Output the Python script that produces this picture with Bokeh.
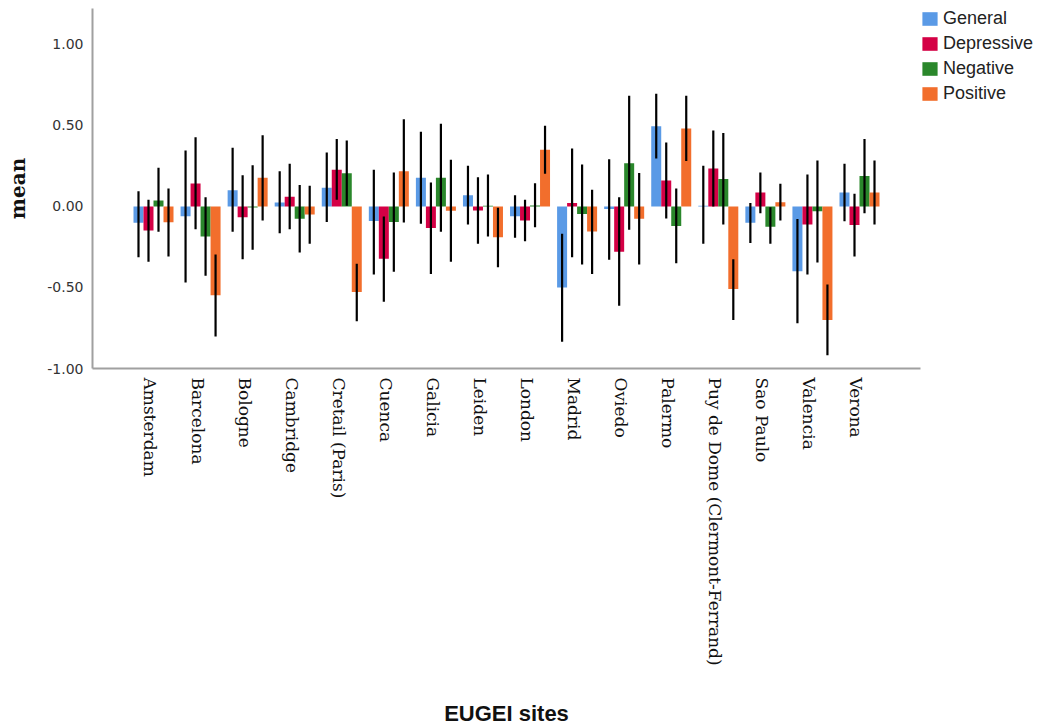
import math
from bokeh.plotting import figure
from bokeh.models import Range1d, FixedTicker, Legend, LegendItem, ColumnDataSource, NumeralTickFormatter
from bokeh.embed import file_html
from bokeh.resources import INLINE

sites = ["Amsterdam", "Barcelona", "Bologne", "Cambridge", "Cretail (Paris)", "Cuenca",
         "Galicia", "Leiden", "London", "Madrid", "Oviedo", "Palermo",
         "Puy de Dome (Clermont-Ferrand)", "Sao Paulo", "Valencia", "Verona"]
series = ["General", "Depressive", "Negative", "Positive"]

general_mean = [-0.10, -0.06, 0.10, 0.025, 0.115, -0.09, 0.177, 0.07, -0.06, -0.50, -0.015, 0.495, 0.005, -0.10, -0.40, 0.086]
general_low = [-0.313, -0.469, -0.156, -0.165, -0.095, -0.420, -0.107, -0.111, -0.193, -0.835, -0.329, 0.296, -0.230, -0.226, -0.720, -0.091]
general_high = [0.094, 0.346, 0.362, 0.218, 0.333, 0.226, 0.461, 0.251, 0.070, -0.169, 0.292, 0.696, 0.251, 0.021, -0.078, 0.263]

depressive_mean = [-0.148, 0.142, -0.066, 0.06, 0.227, -0.322, -0.133, -0.025, -0.086, 0.021, -0.28, 0.16, 0.235, 0.086, -0.111, -0.115]
depressive_low = [-0.341, -0.140, -0.325, -0.140, 0.041, -0.588, -0.416, -0.230, -0.214, -0.313, -0.613, -0.074, 0.0, -0.041, -0.420, -0.309]
depressive_high = [0.041, 0.428, 0.193, 0.263, 0.416, -0.062, 0.148, 0.181, 0.041, 0.358, 0.057, 0.395, 0.469, 0.210, 0.198, 0.078]

negative_mean = [0.037, -0.185, -0.006, -0.075, 0.205, -0.095, 0.177, 0.005, 0.006, -0.046, 0.267, -0.12, 0.17, -0.125, -0.03, 0.188]
negative_low = [-0.156, -0.428, -0.267, -0.284, 0.004, -0.403, -0.156, -0.185, -0.128, -0.358, -0.144, -0.350, -0.111, -0.230, -0.346, -0.041]
negative_high = [0.239, 0.057, 0.255, 0.132, 0.407, 0.210, 0.510, 0.198, 0.144, 0.259, 0.683, 0.111, 0.453, -0.004, 0.284, 0.416]

positive_mean = [-0.098, -0.548, 0.177, -0.05, -0.528, 0.218, -0.026, -0.19, 0.35, -0.154, -0.075, 0.481, -0.51, 0.026, -0.70, 0.086]
positive_low = [-0.309, -0.802, -0.086, -0.230, -0.708, -0.099, -0.341, -0.375, 0.202, -0.416, -0.358, 0.280, -0.700, -0.086, -0.918, -0.111]
positive_high = [0.111, -0.296, 0.440, 0.128, -0.354, 0.539, 0.288, -0.008, 0.498, 0.103, 0.206, 0.683, -0.325, 0.140, -0.481, 0.284]

y_ticks = [-1.0, -0.5, 0.0, 0.5, 1.0]

colors = ["#5A9AE6", "#D40045", "#2A872B", "#F26E2C"]
means = [general_mean, depressive_mean, negative_mean, positive_mean]
lows = [general_low, depressive_low, negative_low, positive_low]
highs = [general_high, depressive_high, negative_high, positive_high]

p = figure(frame_width=828, frame_height=360,
           x_range=Range1d(-1.296, 16.296), y_range=Range1d(-1.0, 1.222),
           output_backend="svg", toolbar_location=None,
           min_border_left=92, min_border_top=8, min_border_right=0, min_border_bottom=0)
p.outline_line_color = None
p.xgrid.visible = False
p.ygrid.visible = False

bar_w = 0.2125
offsets = [-1.5 * bar_w, -0.5 * bar_w, 0.5 * bar_w, 1.5 * bar_w]
items = []
sources = []
for k, name in enumerate(series):
    xs = [i + offsets[k] for i in range(len(sites))]
    src = ColumnDataSource(dict(x=xs, top=means[k], low=lows[k], high=highs[k]))
    r = p.vbar(x="x", top="top", bottom=0, width=bar_w, source=src,
               fill_color=colors[k], line_color=None)
    items.append(LegendItem(label=name, renderers=[r]))
    sources.append(src)
for src in sources:
    p.segment(x0="x", y0="low", x1="x", y1="high", source=src,
              line_color="#000000", line_width=2.2)

legend = Legend(items=items, location="top_left")
legend.border_line_color = None
legend.background_fill_alpha = 0
legend.margin = 0
legend.padding = 2
legend.glyph_width = 19
legend.glyph_height = 17
legend.label_height = 17
legend.spacing = 4
legend.label_standoff = 4
legend.label_text_font = "Liberation Sans"
legend.label_text_font_size = "18px"
legend.label_text_color = "#222222"
p.add_layout(legend, "right")

# y axis
p.yaxis.ticker = FixedTicker(ticks=y_ticks)
p.yaxis.formatter = NumeralTickFormatter(format="0.00")
p.yaxis.major_tick_out = 0
p.yaxis.major_tick_in = 0
p.yaxis.minor_tick_out = 0
p.yaxis.minor_tick_in = 0
p.yaxis.major_label_standoff = 9
p.yaxis.major_label_text_font = "DejaVu Sans"
p.yaxis.major_label_text_font_size = "14px"
p.yaxis.major_label_text_color = "#333333"
p.yaxis.axis_line_color = "#A0A0A0"
p.yaxis.axis_line_width = 2
p.yaxis.axis_label = "mean"
p.yaxis.axis_label_text_font = "DejaVu Serif"
p.yaxis.axis_label_text_font_style = "bold"
p.yaxis.axis_label_text_font_size = "20px"
p.yaxis.axis_label_text_color = "#111111"
p.yaxis.axis_label_standoff = 14

# x axis (labels sit slightly left of the bar-group centres, as in the original)
label_shift = -0.065
tick_pos = [i + label_shift for i in range(len(sites))]
p.xaxis.ticker = FixedTicker(ticks=tick_pos)
p.xaxis.major_label_overrides = {t: s for t, s in zip(tick_pos, sites)}
p.xaxis.major_label_orientation = -math.pi / 2
p.xaxis.major_tick_out = 0
p.xaxis.major_tick_in = 0
p.xaxis.minor_tick_out = 0
p.xaxis.minor_tick_in = 0
p.xaxis.major_label_standoff = 9
p.xaxis.major_label_text_font = "DejaVu Serif"
p.xaxis.major_label_text_font_size = "17px"
p.xaxis.major_label_text_color = "#111111"
p.xaxis.axis_line_color = "#A0A0A0"
p.xaxis.axis_line_width = 2
p.xaxis.axis_label = "EUGEI sites"
p.xaxis.axis_label_text_font = "Liberation Sans"
p.xaxis.axis_label_text_font_style = "bold"
p.xaxis.axis_label_text_font_size = "22px"
p.xaxis.axis_label_text_color = "#111111"
p.xaxis.axis_label_standoff = 32

open("out.html", "w").write(file_html(p, INLINE))
